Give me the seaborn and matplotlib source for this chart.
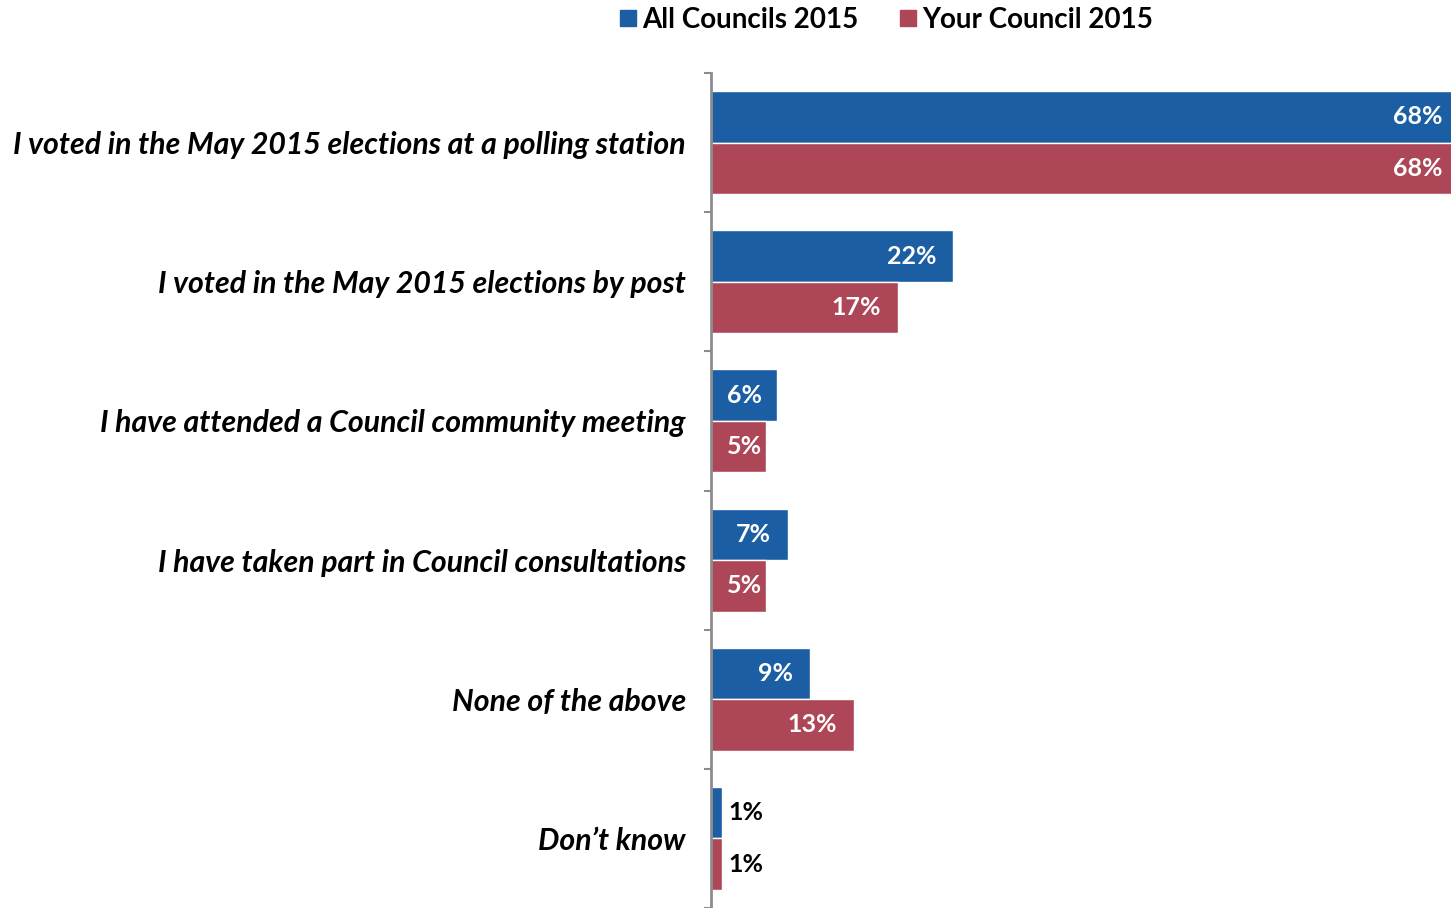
import matplotlib
matplotlib.use("Agg")
import matplotlib.pyplot as plt
from matplotlib.lines import Line2D
import seaborn as sns
import pandas as pd
import numpy as np

categories = [
    "I voted in the May 2015 elections at a polling station",
    "I voted in the May 2015 elections by post",
    "I have attended a Council community meeting",
    "I have taken part in Council consultations",
    "None of the above",
    "Don\u2019t know",
]
all_councils = [68, 22, 6, 7, 9, 1]
your_council = [68, 17, 5, 5, 13, 1]
series_names = ["All Councils 2015", "Your Council 2015"]
colors = ["#1B5EA4", "#AD4758"]

df = pd.DataFrame({
    "category": categories * 2,
    "value": all_councils + your_council,
    "series": [series_names[0]] * len(categories) + [series_names[1]] * len(categories),
})

sns.set_style("white")
plt.rcParams["font.family"] = ["Lato", "DejaVu Sans"]
plt.rcParams["text.color"] = "black"
plt.rcParams["ytick.labelcolor"] = "black"

W, H, DPI = 1451, 908, 100
fig = plt.figure(figsize=(W / DPI, H / DPI), dpi=DPI)
ax = fig.add_axes([711 / W, 0.0, 1 - 711 / W, 1 - 73 / H])

sns.barplot(data=df, y="category", x="value", hue="series", orient="h",
            palette=colors, width=0.74, ax=ax, legend=False, saturation=1,
            order=categories, hue_order=series_names)

ax.set_xlim(0, 740 / 11)
ax.set_ylim(len(categories) - 0.5, -0.5)
ax.set_xlabel("")
ax.set_ylabel("")
ax.set_xticks([])
for side in ["top", "right", "bottom"]:
    ax.spines[side].set_visible(False)
ax.spines["left"].set_color("#8C8C8C")
ax.spines["left"].set_linewidth(2)

ax.set_yticks(range(len(categories)))
ax.set_yticklabels(categories, fontsize=21.8, fontweight="bold", fontstyle="italic",
                   color="black")
ax.tick_params(axis="y", which="major", length=0, pad=18)
ax.set_yticks(np.arange(-0.5, len(categories) + 0.5, 1), minor=True)
ax.tick_params(axis="y", which="minor", left=True, length=5, width=1.5,
               color="#8C8C8C", direction="out")

# value labels: white inside the bar end, black outside for small bars
fig.canvas.draw()
renderer = fig.canvas.get_renderer()
to_px = ax.transData
for container in ax.containers:
    for patch in container:
        val = patch.get_width()
        yc = patch.get_y() + patch.get_height() / 2
        x0_px = to_px.transform((0, yc))[0]
        label = f"{val:.0f}%"
        if val < 3:
            ax.annotate(label, (val, yc), xytext=(6 * 72 / DPI, 0), textcoords="offset points",
                        ha="left", va="center", fontsize=18, fontweight="bold", color="black",
                        annotation_clip=False)
        else:
            t = ax.annotate(label, (val, yc), xytext=(-17 * 72 / DPI, 0), textcoords="offset points",
                            ha="right", va="center", fontsize=18, fontweight="bold", color="white",
                            annotation_clip=False)
            bb = t.get_window_extent(renderer)
            if bb.x0 < x0_px + 16:
                shift = (x0_px + 16 - bb.x0) * 72 / DPI
                t.set_position((-17 * 72 / DPI + shift, 0))

handles = [Line2D([], [], marker="s", linestyle="none", markersize=11,
                  markerfacecolor=c, markeredgecolor=c) for c in colors]
fig.legend(handles, series_names, loc="center", bbox_to_anchor=(885 / W, 1 - 20 / H),
           ncol=2, frameon=False, handletextpad=0.1, columnspacing=1.4,
           prop={"size": 20, "weight": "bold"}, handlelength=0.8, labelcolor="black")

fig.savefig("out.png", dpi=DPI)
